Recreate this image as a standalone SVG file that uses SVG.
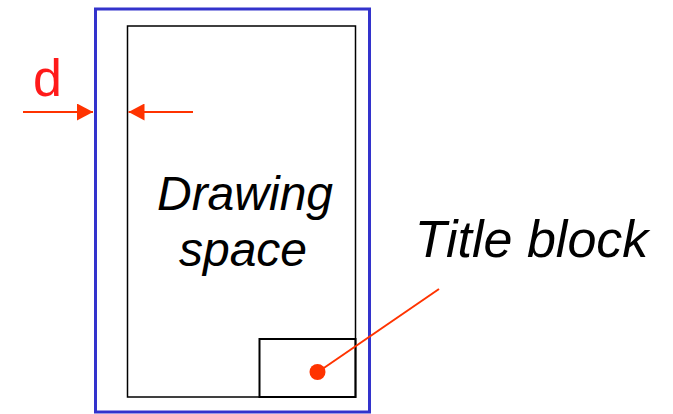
<svg xmlns="http://www.w3.org/2000/svg" width="673" height="414" viewBox="0 0 673 414">
<defs>
<style>
.lbl{font-family:"Liberation Sans",Arial,sans-serif;font-style:italic;fill:#000}
.red{stroke:#ff3300;stroke-width:2;fill:none}
</style>
<marker id="ah" viewBox="0 0 16 17" refX="16" refY="8.5" markerWidth="16" markerHeight="17" markerUnits="userSpaceOnUse" orient="auto">
<path d="M0,0 L16,8.5 L0,17 Z" fill="#ff3300"/>
</marker>
</defs>
<rect width="673" height="414" fill="#fff"/>
<g id="sheet">
<rect x="95.5" y="9" width="274" height="403" fill="none" stroke="#3333cc" stroke-width="3"/>
</g>
<g id="drawing-space">
<rect x="127.5" y="26" width="228" height="371" fill="none" stroke="#000" stroke-width="1.5"/>
<text class="lbl" x="245" y="210" font-size="48" text-anchor="middle">Drawing</text>
<text class="lbl" x="243" y="266" font-size="48" text-anchor="middle">space</text>
</g>
<g id="title-block">
<rect x="259.5" y="339" width="96" height="58" fill="none" stroke="#000" stroke-width="2"/>
</g>
<g id="title-label">
<text class="lbl" x="531.5" y="257" font-size="52" text-anchor="middle">Title block</text>
</g>
<g id="d-label">
<text x="33" y="96" font-family="'Liberation Sans',Arial,sans-serif" font-size="52" fill="#ff1a1a">d</text>
</g>
<g id="connectors">
<line class="red" x1="23" y1="112" x2="93" y2="112" marker-end="url(#ah)"/>
<line class="red" x1="193" y1="112" x2="128.5" y2="112" marker-end="url(#ah)"/>
<line class="red" x1="439" y1="289" x2="318" y2="372"/>
<circle cx="317.5" cy="372" r="8" fill="#ff3300"/>
</g>
</svg>
